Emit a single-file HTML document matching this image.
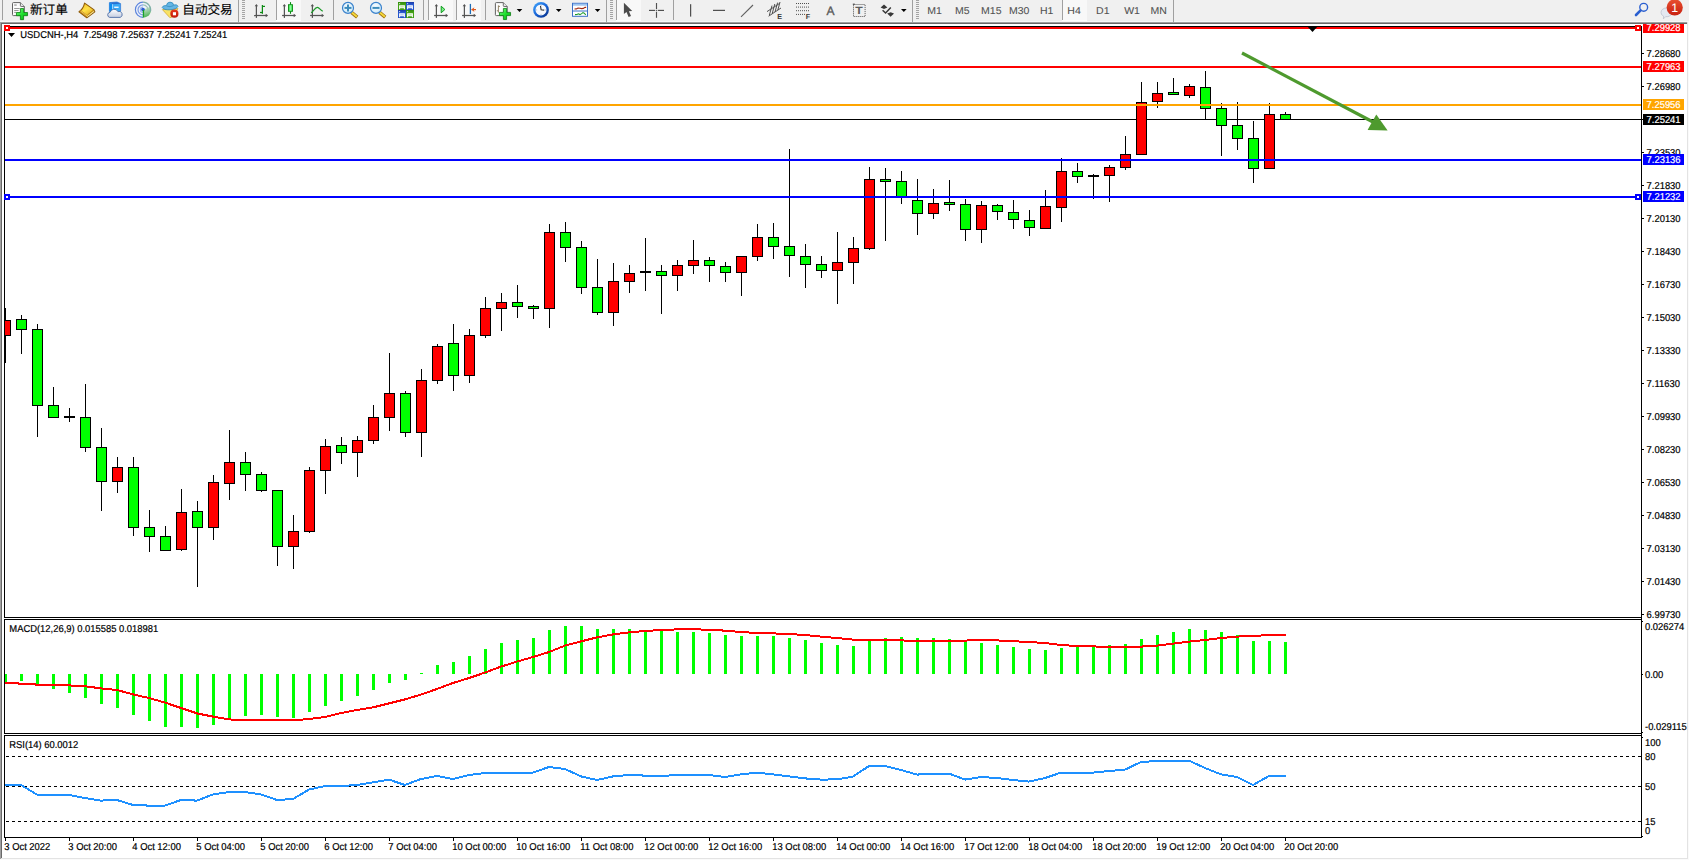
<!DOCTYPE html>
<html><head><meta charset="utf-8"><title>USDCNH-,H4</title>
<style>html,body{margin:0;padding:0;background:#f0f0f0;overflow:hidden}svg{display:block}svg{text-rendering:geometricPrecision}text{font-family:"Liberation Sans","Noto Sans CJK SC",sans-serif;font-size:10px;fill:#000;stroke:#000;stroke-width:.2px}.cj{font-size:12.6px;stroke-width:.15px}.tf{fill:#505050;stroke:#505050;stroke-width:.08px}.w{fill:#fff;stroke:#fff}</style></head><body>
<svg width="1689" height="860" viewBox="0 0 1689 860">
<rect width="1689" height="860" fill="#f0f0f0"/>
<g shape-rendering="crispEdges">
<rect x="0" y="21" width="1689" height="1" fill="#f8f8f8"/>
<rect x="0" y="22" width="1688" height="837" fill="#a0a0a0"/>
<rect x="1" y="23" width="1687" height="836" fill="#696969"/>
<rect x="2" y="24" width="1687" height="836" fill="#ffffff"/>
<rect x="1687" y="22" width="1" height="837" fill="#e3e3e3"/>
<rect x="1688" y="22" width="1" height="838" fill="#fafafa"/>
<rect x="1" y="858" width="1687" height="1" fill="#e3e3e3"/>
<rect x="0" y="859" width="1689" height="1" fill="#fafafa"/>
<rect x="4" y="26" width="1" height="592" fill="#000"/>
<rect x="4" y="619" width="1" height="115" fill="#000"/>
<rect x="4" y="735" width="1" height="103" fill="#000"/>
<rect x="4" y="26" width="1638" height="1" fill="#000"/>
<rect x="4" y="617" width="1638" height="1" fill="#000"/>
<rect x="4" y="619" width="1638" height="1" fill="#000"/>
<rect x="4" y="733" width="1638" height="1" fill="#000"/>
<rect x="4" y="735" width="1638" height="1" fill="#000"/>
<rect x="4" y="837" width="1638" height="1" fill="#000"/>
<rect x="1641" y="26" width="1" height="812" fill="#000"/>
<rect x="1642" y="53" width="2" height="1" fill="#000"/>
<rect x="1642" y="86" width="2" height="1" fill="#000"/>
<rect x="1642" y="119" width="2" height="1" fill="#000"/>
<rect x="1642" y="152" width="2" height="1" fill="#000"/>
<rect x="1642" y="185" width="2" height="1" fill="#000"/>
<rect x="1642" y="218" width="2" height="1" fill="#000"/>
<rect x="1642" y="251" width="2" height="1" fill="#000"/>
<rect x="1642" y="284" width="2" height="1" fill="#000"/>
<rect x="1642" y="317" width="2" height="1" fill="#000"/>
<rect x="1642" y="350" width="2" height="1" fill="#000"/>
<rect x="1642" y="383" width="2" height="1" fill="#000"/>
<rect x="1642" y="416" width="2" height="1" fill="#000"/>
<rect x="1642" y="449" width="2" height="1" fill="#000"/>
<rect x="1642" y="482" width="2" height="1" fill="#000"/>
<rect x="1642" y="515" width="2" height="1" fill="#000"/>
<rect x="1642" y="548" width="2" height="1" fill="#000"/>
<rect x="1642" y="581" width="2" height="1" fill="#000"/>
<rect x="1642" y="614" width="2" height="1" fill="#000"/>
<rect x="1642" y="621" width="1" height="1" fill="#000"/>
<rect x="1642" y="674" width="1" height="1" fill="#000"/>
<rect x="1642" y="732" width="1" height="1" fill="#000"/>
<rect x="1642" y="737" width="1" height="1" fill="#000"/>
<rect x="1642" y="836" width="1" height="1" fill="#000"/>
<rect x="5" y="838" width="1" height="3" fill="#000"/>
<rect x="69" y="838" width="1" height="3" fill="#000"/>
<rect x="133" y="838" width="1" height="3" fill="#000"/>
<rect x="197" y="838" width="1" height="3" fill="#000"/>
<rect x="261" y="838" width="1" height="3" fill="#000"/>
<rect x="325" y="838" width="1" height="3" fill="#000"/>
<rect x="389" y="838" width="1" height="3" fill="#000"/>
<rect x="453" y="838" width="1" height="3" fill="#000"/>
<rect x="517" y="838" width="1" height="3" fill="#000"/>
<rect x="581" y="838" width="1" height="3" fill="#000"/>
<rect x="645" y="838" width="1" height="3" fill="#000"/>
<rect x="709" y="838" width="1" height="3" fill="#000"/>
<rect x="773" y="838" width="1" height="3" fill="#000"/>
<rect x="837" y="838" width="1" height="3" fill="#000"/>
<rect x="901" y="838" width="1" height="3" fill="#000"/>
<rect x="965" y="838" width="1" height="3" fill="#000"/>
<rect x="1029" y="838" width="1" height="3" fill="#000"/>
<rect x="1093" y="838" width="1" height="3" fill="#000"/>
<rect x="1157" y="838" width="1" height="3" fill="#000"/>
<rect x="1221" y="838" width="1" height="3" fill="#000"/>
<rect x="1285" y="838" width="1" height="3" fill="#000"/>
</g>
<defs><clipPath id="cm"><rect x="5" y="27" width="1636" height="590"/></clipPath></defs>
<g shape-rendering="crispEdges" clip-path="url(#cm)">
<rect x="5" y="119" width="1636" height="1" fill="#000"/>
<rect x="5" y="308" width="1" height="55" fill="#000"/>
<rect x="0" y="320" width="11" height="16" fill="#000"/>
<rect x="1" y="321" width="9" height="14" fill="#ff0000"/>
<rect x="21" y="315" width="1" height="39" fill="#000"/>
<rect x="16" y="319" width="11" height="11" fill="#000"/>
<rect x="17" y="320" width="9" height="9" fill="#00ff00"/>
<rect x="37" y="324" width="1" height="113" fill="#000"/>
<rect x="32" y="329" width="11" height="77" fill="#000"/>
<rect x="33" y="330" width="9" height="75" fill="#00ff00"/>
<rect x="53" y="387" width="1" height="31" fill="#000"/>
<rect x="48" y="405" width="11" height="13" fill="#000"/>
<rect x="49" y="406" width="9" height="11" fill="#00ff00"/>
<rect x="69" y="408" width="1" height="14" fill="#000"/>
<rect x="64" y="416" width="11" height="2" fill="#000"/>
<rect x="85" y="384" width="1" height="68" fill="#000"/>
<rect x="80" y="417" width="11" height="31" fill="#000"/>
<rect x="81" y="418" width="9" height="29" fill="#00ff00"/>
<rect x="101" y="428" width="1" height="83" fill="#000"/>
<rect x="96" y="447" width="11" height="35" fill="#000"/>
<rect x="97" y="448" width="9" height="33" fill="#00ff00"/>
<rect x="117" y="457" width="1" height="36" fill="#000"/>
<rect x="112" y="467" width="11" height="15" fill="#000"/>
<rect x="113" y="468" width="9" height="13" fill="#ff0000"/>
<rect x="133" y="457" width="1" height="79" fill="#000"/>
<rect x="128" y="467" width="11" height="61" fill="#000"/>
<rect x="129" y="468" width="9" height="59" fill="#00ff00"/>
<rect x="149" y="510" width="1" height="42" fill="#000"/>
<rect x="144" y="527" width="11" height="10" fill="#000"/>
<rect x="145" y="528" width="9" height="8" fill="#00ff00"/>
<rect x="165" y="526" width="1" height="25" fill="#000"/>
<rect x="160" y="536" width="11" height="15" fill="#000"/>
<rect x="161" y="537" width="9" height="13" fill="#00ff00"/>
<rect x="181" y="489" width="1" height="62" fill="#000"/>
<rect x="176" y="512" width="11" height="38" fill="#000"/>
<rect x="177" y="513" width="9" height="36" fill="#ff0000"/>
<rect x="197" y="501" width="1" height="86" fill="#000"/>
<rect x="192" y="511" width="11" height="17" fill="#000"/>
<rect x="193" y="512" width="9" height="15" fill="#00ff00"/>
<rect x="213" y="475" width="1" height="65" fill="#000"/>
<rect x="208" y="482" width="11" height="46" fill="#000"/>
<rect x="209" y="483" width="9" height="44" fill="#ff0000"/>
<rect x="229" y="430" width="1" height="70" fill="#000"/>
<rect x="224" y="462" width="11" height="22" fill="#000"/>
<rect x="225" y="463" width="9" height="20" fill="#ff0000"/>
<rect x="245" y="452" width="1" height="39" fill="#000"/>
<rect x="240" y="462" width="11" height="13" fill="#000"/>
<rect x="241" y="463" width="9" height="11" fill="#00ff00"/>
<rect x="261" y="472" width="1" height="20" fill="#000"/>
<rect x="256" y="474" width="11" height="17" fill="#000"/>
<rect x="257" y="475" width="9" height="15" fill="#00ff00"/>
<rect x="277" y="490" width="1" height="76" fill="#000"/>
<rect x="272" y="490" width="11" height="57" fill="#000"/>
<rect x="273" y="491" width="9" height="55" fill="#00ff00"/>
<rect x="293" y="515" width="1" height="54" fill="#000"/>
<rect x="288" y="531" width="11" height="16" fill="#000"/>
<rect x="289" y="532" width="9" height="14" fill="#ff0000"/>
<rect x="309" y="467" width="1" height="66" fill="#000"/>
<rect x="304" y="470" width="11" height="62" fill="#000"/>
<rect x="305" y="471" width="9" height="60" fill="#ff0000"/>
<rect x="325" y="439" width="1" height="55" fill="#000"/>
<rect x="320" y="446" width="11" height="25" fill="#000"/>
<rect x="321" y="447" width="9" height="23" fill="#ff0000"/>
<rect x="341" y="437" width="1" height="27" fill="#000"/>
<rect x="336" y="445" width="11" height="8" fill="#000"/>
<rect x="337" y="446" width="9" height="6" fill="#00ff00"/>
<rect x="357" y="436" width="1" height="41" fill="#000"/>
<rect x="352" y="440" width="11" height="13" fill="#000"/>
<rect x="353" y="441" width="9" height="11" fill="#ff0000"/>
<rect x="373" y="405" width="1" height="39" fill="#000"/>
<rect x="368" y="417" width="11" height="24" fill="#000"/>
<rect x="369" y="418" width="9" height="22" fill="#ff0000"/>
<rect x="389" y="353" width="1" height="78" fill="#000"/>
<rect x="384" y="393" width="11" height="25" fill="#000"/>
<rect x="385" y="394" width="9" height="23" fill="#ff0000"/>
<rect x="405" y="391" width="1" height="46" fill="#000"/>
<rect x="400" y="393" width="11" height="40" fill="#000"/>
<rect x="401" y="394" width="9" height="38" fill="#00ff00"/>
<rect x="421" y="369" width="1" height="88" fill="#000"/>
<rect x="416" y="380" width="11" height="53" fill="#000"/>
<rect x="417" y="381" width="9" height="51" fill="#ff0000"/>
<rect x="437" y="344" width="1" height="40" fill="#000"/>
<rect x="432" y="346" width="11" height="35" fill="#000"/>
<rect x="433" y="347" width="9" height="33" fill="#ff0000"/>
<rect x="453" y="324" width="1" height="67" fill="#000"/>
<rect x="448" y="343" width="11" height="33" fill="#000"/>
<rect x="449" y="344" width="9" height="31" fill="#00ff00"/>
<rect x="469" y="329" width="1" height="54" fill="#000"/>
<rect x="464" y="335" width="11" height="41" fill="#000"/>
<rect x="465" y="336" width="9" height="39" fill="#ff0000"/>
<rect x="485" y="297" width="1" height="41" fill="#000"/>
<rect x="480" y="308" width="11" height="28" fill="#000"/>
<rect x="481" y="309" width="9" height="26" fill="#ff0000"/>
<rect x="501" y="293" width="1" height="38" fill="#000"/>
<rect x="496" y="302" width="11" height="7" fill="#000"/>
<rect x="497" y="303" width="9" height="5" fill="#ff0000"/>
<rect x="517" y="285" width="1" height="33" fill="#000"/>
<rect x="512" y="302" width="11" height="5" fill="#000"/>
<rect x="513" y="303" width="9" height="3" fill="#00ff00"/>
<rect x="533" y="305" width="1" height="14" fill="#000"/>
<rect x="528" y="306" width="11" height="3" fill="#000"/>
<rect x="529" y="307" width="9" height="1" fill="#00ff00"/>
<rect x="549" y="224" width="1" height="104" fill="#000"/>
<rect x="544" y="232" width="11" height="77" fill="#000"/>
<rect x="545" y="233" width="9" height="75" fill="#ff0000"/>
<rect x="565" y="222" width="1" height="40" fill="#000"/>
<rect x="560" y="232" width="11" height="16" fill="#000"/>
<rect x="561" y="233" width="9" height="14" fill="#00ff00"/>
<rect x="581" y="241" width="1" height="53" fill="#000"/>
<rect x="576" y="247" width="11" height="41" fill="#000"/>
<rect x="577" y="248" width="9" height="39" fill="#00ff00"/>
<rect x="597" y="259" width="1" height="56" fill="#000"/>
<rect x="592" y="287" width="11" height="26" fill="#000"/>
<rect x="593" y="288" width="9" height="24" fill="#00ff00"/>
<rect x="613" y="263" width="1" height="63" fill="#000"/>
<rect x="608" y="281" width="11" height="32" fill="#000"/>
<rect x="609" y="282" width="9" height="30" fill="#ff0000"/>
<rect x="629" y="265" width="1" height="28" fill="#000"/>
<rect x="624" y="273" width="11" height="9" fill="#000"/>
<rect x="625" y="274" width="9" height="7" fill="#ff0000"/>
<rect x="645" y="238" width="1" height="53" fill="#000"/>
<rect x="640" y="271" width="11" height="2" fill="#000"/>
<rect x="661" y="265" width="1" height="49" fill="#000"/>
<rect x="656" y="271" width="11" height="5" fill="#000"/>
<rect x="657" y="272" width="9" height="3" fill="#00ff00"/>
<rect x="677" y="260" width="1" height="31" fill="#000"/>
<rect x="672" y="265" width="11" height="11" fill="#000"/>
<rect x="673" y="266" width="9" height="9" fill="#ff0000"/>
<rect x="693" y="240" width="1" height="34" fill="#000"/>
<rect x="688" y="260" width="11" height="6" fill="#000"/>
<rect x="689" y="261" width="9" height="4" fill="#ff0000"/>
<rect x="709" y="257" width="1" height="25" fill="#000"/>
<rect x="704" y="260" width="11" height="6" fill="#000"/>
<rect x="705" y="261" width="9" height="4" fill="#00ff00"/>
<rect x="725" y="262" width="1" height="20" fill="#000"/>
<rect x="720" y="266" width="11" height="7" fill="#000"/>
<rect x="721" y="267" width="9" height="5" fill="#00ff00"/>
<rect x="741" y="256" width="1" height="40" fill="#000"/>
<rect x="736" y="256" width="11" height="17" fill="#000"/>
<rect x="737" y="257" width="9" height="15" fill="#ff0000"/>
<rect x="757" y="224" width="1" height="37" fill="#000"/>
<rect x="752" y="237" width="11" height="20" fill="#000"/>
<rect x="753" y="238" width="9" height="18" fill="#ff0000"/>
<rect x="773" y="223" width="1" height="36" fill="#000"/>
<rect x="768" y="237" width="11" height="10" fill="#000"/>
<rect x="769" y="238" width="9" height="8" fill="#00ff00"/>
<rect x="789" y="149" width="1" height="128" fill="#000"/>
<rect x="784" y="246" width="11" height="10" fill="#000"/>
<rect x="785" y="247" width="9" height="8" fill="#00ff00"/>
<rect x="805" y="244" width="1" height="44" fill="#000"/>
<rect x="800" y="256" width="11" height="9" fill="#000"/>
<rect x="801" y="257" width="9" height="7" fill="#00ff00"/>
<rect x="821" y="256" width="1" height="22" fill="#000"/>
<rect x="816" y="264" width="11" height="7" fill="#000"/>
<rect x="817" y="265" width="9" height="5" fill="#00ff00"/>
<rect x="837" y="232" width="1" height="72" fill="#000"/>
<rect x="832" y="262" width="11" height="9" fill="#000"/>
<rect x="833" y="263" width="9" height="7" fill="#ff0000"/>
<rect x="853" y="237" width="1" height="47" fill="#000"/>
<rect x="848" y="248" width="11" height="15" fill="#000"/>
<rect x="849" y="249" width="9" height="13" fill="#ff0000"/>
<rect x="869" y="167" width="1" height="83" fill="#000"/>
<rect x="864" y="179" width="11" height="70" fill="#000"/>
<rect x="865" y="180" width="9" height="68" fill="#ff0000"/>
<rect x="885" y="168" width="1" height="73" fill="#000"/>
<rect x="880" y="179" width="11" height="3" fill="#000"/>
<rect x="881" y="180" width="9" height="1" fill="#00ff00"/>
<rect x="901" y="171" width="1" height="33" fill="#000"/>
<rect x="896" y="181" width="11" height="17" fill="#000"/>
<rect x="897" y="182" width="9" height="15" fill="#00ff00"/>
<rect x="917" y="179" width="1" height="56" fill="#000"/>
<rect x="912" y="200" width="11" height="14" fill="#000"/>
<rect x="913" y="201" width="9" height="12" fill="#00ff00"/>
<rect x="933" y="189" width="1" height="30" fill="#000"/>
<rect x="928" y="203" width="11" height="11" fill="#000"/>
<rect x="929" y="204" width="9" height="9" fill="#ff0000"/>
<rect x="949" y="180" width="1" height="31" fill="#000"/>
<rect x="944" y="202" width="11" height="3" fill="#000"/>
<rect x="945" y="203" width="9" height="1" fill="#00ff00"/>
<rect x="965" y="199" width="1" height="42" fill="#000"/>
<rect x="960" y="204" width="11" height="26" fill="#000"/>
<rect x="961" y="205" width="9" height="24" fill="#00ff00"/>
<rect x="981" y="201" width="1" height="42" fill="#000"/>
<rect x="976" y="205" width="11" height="25" fill="#000"/>
<rect x="977" y="206" width="9" height="23" fill="#ff0000"/>
<rect x="997" y="204" width="1" height="16" fill="#000"/>
<rect x="992" y="205" width="11" height="7" fill="#000"/>
<rect x="993" y="206" width="9" height="5" fill="#00ff00"/>
<rect x="1013" y="200" width="1" height="29" fill="#000"/>
<rect x="1008" y="212" width="11" height="8" fill="#000"/>
<rect x="1009" y="213" width="9" height="6" fill="#00ff00"/>
<rect x="1029" y="210" width="1" height="26" fill="#000"/>
<rect x="1024" y="220" width="11" height="8" fill="#000"/>
<rect x="1025" y="221" width="9" height="6" fill="#00ff00"/>
<rect x="1045" y="190" width="1" height="39" fill="#000"/>
<rect x="1040" y="206" width="11" height="23" fill="#000"/>
<rect x="1041" y="207" width="9" height="21" fill="#ff0000"/>
<rect x="1061" y="158" width="1" height="64" fill="#000"/>
<rect x="1056" y="171" width="11" height="37" fill="#000"/>
<rect x="1057" y="172" width="9" height="35" fill="#ff0000"/>
<rect x="1077" y="163" width="1" height="20" fill="#000"/>
<rect x="1072" y="171" width="11" height="6" fill="#000"/>
<rect x="1073" y="172" width="9" height="4" fill="#00ff00"/>
<rect x="1093" y="174" width="1" height="25" fill="#000"/>
<rect x="1088" y="175" width="11" height="2" fill="#000"/>
<rect x="1109" y="165" width="1" height="37" fill="#000"/>
<rect x="1104" y="167" width="11" height="9" fill="#000"/>
<rect x="1105" y="168" width="9" height="7" fill="#ff0000"/>
<rect x="1125" y="136" width="1" height="34" fill="#000"/>
<rect x="1120" y="154" width="11" height="14" fill="#000"/>
<rect x="1121" y="155" width="9" height="12" fill="#ff0000"/>
<rect x="1141" y="82" width="1" height="73" fill="#000"/>
<rect x="1136" y="102" width="11" height="53" fill="#000"/>
<rect x="1137" y="103" width="9" height="51" fill="#ff0000"/>
<rect x="1157" y="82" width="1" height="26" fill="#000"/>
<rect x="1152" y="93" width="11" height="9" fill="#000"/>
<rect x="1153" y="94" width="9" height="7" fill="#ff0000"/>
<rect x="1173" y="78" width="1" height="17" fill="#000"/>
<rect x="1168" y="92" width="11" height="3" fill="#000"/>
<rect x="1169" y="93" width="9" height="1" fill="#00ff00"/>
<rect x="1189" y="84" width="1" height="14" fill="#000"/>
<rect x="1184" y="86" width="11" height="10" fill="#000"/>
<rect x="1185" y="87" width="9" height="8" fill="#ff0000"/>
<rect x="1205" y="71" width="1" height="49" fill="#000"/>
<rect x="1200" y="87" width="11" height="22" fill="#000"/>
<rect x="1201" y="88" width="9" height="20" fill="#00ff00"/>
<rect x="1221" y="103" width="1" height="53" fill="#000"/>
<rect x="1216" y="108" width="11" height="18" fill="#000"/>
<rect x="1217" y="109" width="9" height="16" fill="#00ff00"/>
<rect x="1237" y="102" width="1" height="48" fill="#000"/>
<rect x="1232" y="125" width="11" height="14" fill="#000"/>
<rect x="1233" y="126" width="9" height="12" fill="#00ff00"/>
<rect x="1253" y="121" width="1" height="62" fill="#000"/>
<rect x="1248" y="138" width="11" height="31" fill="#000"/>
<rect x="1249" y="139" width="9" height="29" fill="#00ff00"/>
<rect x="1269" y="103" width="1" height="66" fill="#000"/>
<rect x="1264" y="114" width="11" height="55" fill="#000"/>
<rect x="1265" y="115" width="9" height="53" fill="#ff0000"/>
<rect x="1285" y="112" width="1" height="8" fill="#000"/>
<rect x="1280" y="114" width="11" height="6" fill="#000"/>
<rect x="1281" y="115" width="9" height="4" fill="#00ff00"/>
<rect x="5" y="27" width="1636" height="2" fill="#ff0000"/>
<rect x="5" y="66" width="1636" height="2" fill="#ff0000"/>
<rect x="5" y="104" width="1636" height="2" fill="#ffa500"/>
<rect x="5" y="159" width="1636" height="2" fill="#0000ff"/>
<rect x="5" y="196" width="1636" height="2" fill="#0000ff"/>
</g>
<line x1="1242" y1="53" x2="1373" y2="122" stroke="#4e9a2e" stroke-width="3.2"/>
<polygon points="1376.3,114.5 1387.6,130.4 1367.6,130" fill="#4e9a2e"/>
<g shape-rendering="crispEdges">
<polygon points="1307,26 1318,26 1312.5,32" fill="#000" shape-rendering="auto"/>
<rect x="4" y="25" width="6" height="6" fill="#ff0000"/>
<rect x="6" y="27" width="2" height="2" fill="#fff"/>
<rect x="1635" y="25" width="6" height="6" fill="#ff0000"/>
<rect x="1637" y="27" width="2" height="2" fill="#fff"/>
<rect x="4" y="194" width="6" height="6" fill="#0000ff"/>
<rect x="6" y="196" width="2" height="2" fill="#fff"/>
<rect x="1635" y="194" width="6" height="6" fill="#0000ff"/>
<rect x="1637" y="196" width="2" height="2" fill="#fff"/>
<polygon points="8,33 15,33 11.5,37" fill="#000" shape-rendering="auto"/>
</g>
<text transform="translate(20.3 38) scale(0.94 1)">USDCNH-,H4&#160; 7.25498 7.25637 7.25241 7.25241</text>
<text transform="translate(1646.6 57) scale(0.94 1)">7.28680</text>
<text transform="translate(1646.6 90) scale(0.94 1)">7.26980</text>
<text transform="translate(1646.6 156) scale(0.94 1)">7.23530</text>
<text transform="translate(1646.6 189) scale(0.94 1)">7.21830</text>
<text transform="translate(1646.6 222) scale(0.94 1)">7.20130</text>
<text transform="translate(1646.6 255) scale(0.94 1)">7.18430</text>
<text transform="translate(1646.6 288) scale(0.94 1)">7.16730</text>
<text transform="translate(1646.6 321) scale(0.94 1)">7.15030</text>
<text transform="translate(1646.6 354) scale(0.94 1)">7.13330</text>
<text transform="translate(1646.6 387) scale(0.94 1)">7.11630</text>
<text transform="translate(1646.6 420) scale(0.94 1)">7.09930</text>
<text transform="translate(1646.6 453) scale(0.94 1)">7.08230</text>
<text transform="translate(1646.6 486) scale(0.94 1)">7.06530</text>
<text transform="translate(1646.6 519) scale(0.94 1)">7.04830</text>
<text transform="translate(1646.6 552) scale(0.94 1)">7.03130</text>
<text transform="translate(1646.6 585) scale(0.94 1)">7.01430</text>
<text transform="translate(1646.6 618) scale(0.94 1)">6.99730</text>
<g shape-rendering="crispEdges">
<rect x="1643" y="24" width="41" height="9" fill="#ff0000"/>
<rect x="1643" y="61" width="41" height="11" fill="#ff0000"/>
<rect x="1643" y="99" width="41" height="11" fill="#ffa500"/>
<rect x="1643" y="114" width="41" height="11" fill="#000000"/>
<rect x="1643" y="154" width="41" height="11" fill="#0000ff"/>
<rect x="1643" y="191" width="41" height="11" fill="#0000ff"/>
</g>
<text class="w" transform="translate(1646.6 31) scale(0.94 1)">7.29928</text>
<text class="w" transform="translate(1646.6 70) scale(0.94 1)">7.27963</text>
<text class="w" transform="translate(1646.6 108) scale(0.94 1)">7.25956</text>
<text class="w" transform="translate(1646.6 123) scale(0.94 1)">7.25241</text>
<text class="w" transform="translate(1646.6 163) scale(0.94 1)">7.23136</text>
<text class="w" transform="translate(1646.6 200) scale(0.94 1)">7.21232</text>
<g shape-rendering="crispEdges">
<rect x="5" y="674" width="2" height="8" fill="#00ff00"/>
<rect x="20" y="674" width="3" height="7" fill="#00ff00"/>
<rect x="36" y="674" width="3" height="11" fill="#00ff00"/>
<rect x="52" y="674" width="3" height="15" fill="#00ff00"/>
<rect x="68" y="674" width="3" height="19" fill="#00ff00"/>
<rect x="84" y="674" width="3" height="24" fill="#00ff00"/>
<rect x="100" y="674" width="3" height="30" fill="#00ff00"/>
<rect x="116" y="674" width="3" height="34" fill="#00ff00"/>
<rect x="132" y="674" width="3" height="41" fill="#00ff00"/>
<rect x="148" y="674" width="3" height="47" fill="#00ff00"/>
<rect x="164" y="674" width="3" height="53" fill="#00ff00"/>
<rect x="180" y="674" width="3" height="53" fill="#00ff00"/>
<rect x="196" y="674" width="3" height="54" fill="#00ff00"/>
<rect x="212" y="674" width="3" height="51" fill="#00ff00"/>
<rect x="228" y="674" width="3" height="46" fill="#00ff00"/>
<rect x="244" y="674" width="3" height="42" fill="#00ff00"/>
<rect x="260" y="674" width="3" height="41" fill="#00ff00"/>
<rect x="276" y="674" width="3" height="43" fill="#00ff00"/>
<rect x="292" y="674" width="3" height="44" fill="#00ff00"/>
<rect x="308" y="674" width="3" height="38" fill="#00ff00"/>
<rect x="324" y="674" width="3" height="32" fill="#00ff00"/>
<rect x="340" y="674" width="3" height="27" fill="#00ff00"/>
<rect x="356" y="674" width="3" height="22" fill="#00ff00"/>
<rect x="372" y="674" width="3" height="16" fill="#00ff00"/>
<rect x="388" y="674" width="3" height="9" fill="#00ff00"/>
<rect x="404" y="674" width="3" height="6" fill="#00ff00"/>
<rect x="420" y="673" width="3" height="1" fill="#00ff00"/>
<rect x="436" y="665" width="3" height="9" fill="#00ff00"/>
<rect x="452" y="662" width="3" height="12" fill="#00ff00"/>
<rect x="468" y="656" width="3" height="18" fill="#00ff00"/>
<rect x="484" y="649" width="3" height="25" fill="#00ff00"/>
<rect x="500" y="643" width="3" height="31" fill="#00ff00"/>
<rect x="516" y="640" width="3" height="34" fill="#00ff00"/>
<rect x="532" y="638" width="3" height="36" fill="#00ff00"/>
<rect x="548" y="630" width="3" height="44" fill="#00ff00"/>
<rect x="564" y="626" width="3" height="48" fill="#00ff00"/>
<rect x="580" y="626" width="3" height="48" fill="#00ff00"/>
<rect x="596" y="629" width="3" height="45" fill="#00ff00"/>
<rect x="612" y="629" width="3" height="45" fill="#00ff00"/>
<rect x="628" y="629" width="3" height="45" fill="#00ff00"/>
<rect x="644" y="630" width="3" height="44" fill="#00ff00"/>
<rect x="660" y="630" width="3" height="44" fill="#00ff00"/>
<rect x="676" y="632" width="3" height="42" fill="#00ff00"/>
<rect x="692" y="632" width="3" height="42" fill="#00ff00"/>
<rect x="708" y="633" width="3" height="41" fill="#00ff00"/>
<rect x="724" y="635" width="3" height="39" fill="#00ff00"/>
<rect x="740" y="636" width="3" height="38" fill="#00ff00"/>
<rect x="756" y="636" width="3" height="38" fill="#00ff00"/>
<rect x="772" y="636" width="3" height="38" fill="#00ff00"/>
<rect x="788" y="638" width="3" height="36" fill="#00ff00"/>
<rect x="804" y="640" width="3" height="34" fill="#00ff00"/>
<rect x="820" y="643" width="3" height="31" fill="#00ff00"/>
<rect x="836" y="645" width="3" height="29" fill="#00ff00"/>
<rect x="852" y="646" width="3" height="28" fill="#00ff00"/>
<rect x="868" y="640" width="3" height="34" fill="#00ff00"/>
<rect x="884" y="638" width="3" height="36" fill="#00ff00"/>
<rect x="900" y="637" width="3" height="37" fill="#00ff00"/>
<rect x="916" y="638" width="3" height="36" fill="#00ff00"/>
<rect x="932" y="638" width="3" height="36" fill="#00ff00"/>
<rect x="948" y="639" width="3" height="35" fill="#00ff00"/>
<rect x="964" y="641" width="3" height="33" fill="#00ff00"/>
<rect x="980" y="643" width="3" height="31" fill="#00ff00"/>
<rect x="996" y="645" width="3" height="29" fill="#00ff00"/>
<rect x="1012" y="647" width="3" height="27" fill="#00ff00"/>
<rect x="1028" y="649" width="3" height="25" fill="#00ff00"/>
<rect x="1044" y="650" width="3" height="24" fill="#00ff00"/>
<rect x="1060" y="648" width="3" height="26" fill="#00ff00"/>
<rect x="1076" y="646" width="3" height="28" fill="#00ff00"/>
<rect x="1092" y="647" width="3" height="27" fill="#00ff00"/>
<rect x="1108" y="645" width="3" height="29" fill="#00ff00"/>
<rect x="1124" y="644" width="3" height="30" fill="#00ff00"/>
<rect x="1140" y="639" width="3" height="35" fill="#00ff00"/>
<rect x="1156" y="635" width="3" height="39" fill="#00ff00"/>
<rect x="1172" y="632" width="3" height="42" fill="#00ff00"/>
<rect x="1188" y="629" width="3" height="45" fill="#00ff00"/>
<rect x="1204" y="630" width="3" height="44" fill="#00ff00"/>
<rect x="1220" y="632" width="3" height="42" fill="#00ff00"/>
<rect x="1236" y="635" width="3" height="39" fill="#00ff00"/>
<rect x="1252" y="641" width="3" height="33" fill="#00ff00"/>
<rect x="1268" y="641" width="3" height="33" fill="#00ff00"/>
<rect x="1284" y="642" width="3" height="32" fill="#00ff00"/>
</g>
<polyline points="5,683.0 21,683.6 37,684.6 53,685.0 69,685.4 85,686.2 101,688.4 117,690.0 133,694.4 149,698.0 165,702.6 181,708.0 197,713.4 213,716.6 229,719.4 245,720.4 261,720.4 277,720.4 293,720.4 309,719.0 325,717.0 341,713.0 357,710.0 373,707.4 389,703.4 405,699.4 421,694.6 437,689.0 453,683.0 469,678.0 485,672.6 501,666.6 517,661.6 533,657.0 549,652.0 565,645.6 581,641.4 597,637.4 613,634.4 629,632.4 645,631.0 661,630.0 677,629.4 693,629.0 709,630.0 725,630.6 741,632.0 757,633.0 773,633.4 789,634.0 805,635.0 821,636.6 837,638.0 853,639.6 869,640.0 885,640.0 901,640.4 917,641.0 933,641.0 949,641.0 965,640.6 981,640.0 997,640.4 1013,641.2 1029,642.0 1045,643.0 1061,645.0 1077,646.0 1093,646.4 1109,647.0 1125,647.0 1141,646.6 1157,645.6 1173,643.6 1189,641.6 1205,640.0 1221,638.0 1237,636.6 1253,636.0 1269,635.0 1285,635.0 1286,635.0" fill="none" stroke="#ff0000" stroke-width="2" stroke-linejoin="round" shape-rendering="crispEdges"/>
<text transform="translate(9.3 632) scale(0.94 1)">MACD(12,26,9) 0.015585 0.018981</text>
<text transform="translate(1645 630) scale(0.94 1)">0.026274</text><text transform="translate(1645 678) scale(0.94 1)">0.00</text><text transform="translate(1645 730) scale(0.94 1)">-0.029115</text>
<g shape-rendering="crispEdges">
<line x1="6" y1="756.5" x2="1641" y2="756.5" stroke="#000" stroke-width="1" stroke-dasharray="3 3"/>
<line x1="6" y1="786.5" x2="1641" y2="786.5" stroke="#000" stroke-width="1" stroke-dasharray="3 3"/>
<line x1="6" y1="821.5" x2="1641" y2="821.5" stroke="#000" stroke-width="1" stroke-dasharray="3 3"/>
</g>
<polyline points="5,785.0 21,785.0 37,794.6 53,795.0 69,795.0 85,798.0 101,800.6 117,800.0 133,805.0 149,805.6 165,805.6 181,800.0 197,800.6 213,794.4 229,792.0 245,792.0 261,794.4 277,800.0 293,799.0 309,789.6 325,786.0 341,786.0 357,785.0 373,782.4 389,779.6 405,785.0 421,779.0 437,776.0 453,779.0 469,775.0 485,773.0 501,773.0 517,773.0 533,772.6 549,767.0 565,769.0 581,776.4 597,780.0 613,776.4 629,775.0 645,775.6 661,776.0 677,775.0 693,774.6 709,775.0 725,777.0 741,774.4 757,772.6 773,774.4 789,776.4 805,778.4 821,779.6 837,779.4 853,776.6 869,766.0 885,766.0 901,770.0 917,774.6 933,773.6 949,773.6 965,779.6 981,777.0 997,778.0 1013,780.0 1029,781.6 1045,778.0 1061,772.6 1077,772.6 1093,772.6 1109,771.0 1125,769.6 1141,762.0 1157,761.0 1173,760.6 1189,760.6 1205,768.0 1221,774.4 1237,777.0 1253,785.0 1269,776.0 1285,776.0 1286,776.0" fill="none" stroke="#1e90ff" stroke-width="2" stroke-linejoin="round" shape-rendering="crispEdges"/>
<text transform="translate(9.3 748) scale(0.94 1)">RSI(14) 60.0012</text>
<text transform="translate(1645 746) scale(0.94 1)">100</text><text transform="translate(1645 760) scale(0.94 1)">80</text><text transform="translate(1645 790) scale(0.94 1)">50</text><text transform="translate(1645 825) scale(0.94 1)">15</text><text transform="translate(1645 834) scale(0.94 1)">0</text>
<text transform="translate(4.3 850) scale(0.94 1)">3 Oct 2022</text>
<text transform="translate(68.3 850) scale(0.94 1)">3 Oct 20:00</text>
<text transform="translate(132.3 850) scale(0.94 1)">4 Oct 12:00</text>
<text transform="translate(196.3 850) scale(0.94 1)">5 Oct 04:00</text>
<text transform="translate(260.3 850) scale(0.94 1)">5 Oct 20:00</text>
<text transform="translate(324.3 850) scale(0.94 1)">6 Oct 12:00</text>
<text transform="translate(388.3 850) scale(0.94 1)">7 Oct 04:00</text>
<text transform="translate(452.3 850) scale(0.94 1)">10 Oct 00:00</text>
<text transform="translate(516.3 850) scale(0.94 1)">10 Oct 16:00</text>
<text transform="translate(580.3 850) scale(0.94 1)">11 Oct 08:00</text>
<text transform="translate(644.3 850) scale(0.94 1)">12 Oct 00:00</text>
<text transform="translate(708.3 850) scale(0.94 1)">12 Oct 16:00</text>
<text transform="translate(772.3 850) scale(0.94 1)">13 Oct 08:00</text>
<text transform="translate(836.3 850) scale(0.94 1)">14 Oct 00:00</text>
<text transform="translate(900.3 850) scale(0.94 1)">14 Oct 16:00</text>
<text transform="translate(964.3 850) scale(0.94 1)">17 Oct 12:00</text>
<text transform="translate(1028.3 850) scale(0.94 1)">18 Oct 04:00</text>
<text transform="translate(1092.3 850) scale(0.94 1)">18 Oct 20:00</text>
<text transform="translate(1156.3 850) scale(0.94 1)">19 Oct 12:00</text>
<text transform="translate(1220.3 850) scale(0.94 1)">20 Oct 04:00</text>
<text transform="translate(1284.3 850) scale(0.94 1)">20 Oct 20:00</text>
<rect x="2" y="0" width="1" height="20" fill="#a0a0a0" shape-rendering="crispEdges"/>
<path d="M13.4,2.6 h7 l3.9,3.9 v8.2 q0,0.9 -0.9,0.9 h-10 q-0.9,0 -0.9,-0.9 v-11.2 q0,-0.9 0.9,-0.9 z" fill="#fcfcfc" stroke="#626262" stroke-width="1"/>
<path d="M20.4,2.6 v3.1 q0,0.8 0.8,0.8 h3.1" fill="#e4e4e4" stroke="#626262" stroke-width="0.9"/>
<rect x="14.2" y="4.4" width="2.5" height="1.3" fill="#9a9a9a"/>
<g stroke="#8c8c8c" stroke-width="0.9"><line x1="14.2" y1="8.5" x2="19.7" y2="8.5"/><line x1="14.2" y1="10.5" x2="18.6" y2="10.5"/><line x1="14.2" y1="12.4" x2="16.2" y2="12.4"/></g>
<defs><linearGradient id="pg22" x1="0" y1="0" x2="1" y2="1"><stop offset="0" stop-color="#7dff86"/><stop offset="0.5" stop-color="#1fe02e"/><stop offset="1" stop-color="#08a814"/></linearGradient></defs>
<path d="M20.4,8.55 h3.2 v3.9499999999999997 h3.9499999999999997 v3.2 h-3.9499999999999997 v3.9499999999999997 h-3.2 v-3.9499999999999997 h-3.9499999999999997 v-3.2 h3.9499999999999997 z" fill="url(#pg22)" stroke="#0b7d12" stroke-width="0.8"/>
<text class="cj" x="30" y="13.7">新订单</text>
<defs><linearGradient id="gd" x1="0.1" y1="0" x2="0.8" y2="1"><stop offset="0" stop-color="#f2b81c"/><stop offset="0.45" stop-color="#ffe148"/><stop offset="1" stop-color="#dc9a14"/></linearGradient></defs>
<path d="M84.6,3.1 L93.8,9.6 L94.8,11.8 L86.8,17.8 L79,11.8 Q83.2,9 84.6,3.1 Z" fill="url(#gd)" stroke="#8f5c0c" stroke-width="1.1" stroke-linejoin="round"/>
<path d="M79.6,11.6 L86.9,17.2 L87.4,15.2 L80.9,10.3 Z" fill="#c98a16"/>
<path d="M80.6,11 L87,15.9" fill="none" stroke="#f6dc78" stroke-width="0.7"/>
<path d="M94.2,11.3 L87.2,16.6" fill="none" stroke="#f0e2a4" stroke-width="1"/>
<path d="M93.8,9.9 L87.4,15" fill="none" stroke="#9a640e" stroke-width="0.7"/>
<polygon points="109.4,2.6 117,2 120.6,3.6 120.6,11.5 109.4,11.5" fill="#38a8f6" stroke="#2c74d4" stroke-width="0.7"/>
<polygon points="109.6,2.9 112.4,4.2 112.4,11.4 109.6,11.4" fill="#0c8cf0"/><polygon points="109.6,2.8 117,2.2 120.4,3.8 112.6,4.2" fill="#2a6ed0"/><line x1="112.6" y1="4.2" x2="112.6" y2="11" stroke="#e4f4ff" stroke-width="0.7"/>
<rect x="114.2" y="6.6" width="4.4" height="1.3" fill="#ffffff"/>
<defs><linearGradient id="cl" x1="0" y1="0" x2="0" y2="1"><stop offset="0" stop-color="#ffffff"/><stop offset="1" stop-color="#c4cde0"/></linearGradient></defs>
<path d="M109.6,17.4 a2.6,2.6 0 0 1 0.5,-5.1 a4.2,4.2 0 0 1 7.8,-0.7 a3,3 0 0 1 2.3,5.8 z" fill="url(#cl)" stroke="#4e6ea6" stroke-width="0.9"/>
<defs><linearGradient id="sg" x1="0" y1="0" x2="0.3" y2="1"><stop offset="0" stop-color="#e4f0e0"/><stop offset="1" stop-color="#2fa838"/></linearGradient></defs>
<circle cx="143" cy="9.8" r="7.8" fill="#eef2fb"/>
<path d="M143.4,9.8 L143.4,17.6 A7.8,7.8 0 0 0 150.4,6.6 Z" fill="url(#sg)" opacity="0.85"/>
<g fill="none" stroke-width="1.2"><path d="M143,2.2 a7.6,7.6 0 0 0 0,15.2" stroke="#5c84dc"/><path d="M143,4.8 a5,5 0 0 0 0,10" stroke="#7c9ce4"/><path d="M143,7.2 a2.6,2.6 0 0 0 0,5.2" stroke="#9cb4ec"/><path d="M143,2.2 a7.6,7.6 0 0 1 7.4,9.4" stroke="#7fb0a8"/><path d="M143,4.8 a5,5 0 0 1 4.8,6.4" stroke="#9cc4b4"/></g>
<circle cx="143" cy="9.6" r="1.8" fill="#2a5fd0"/><rect x="142.8" y="10" width="1.3" height="7.5" fill="#18a024"/>
<path d="M162.4,9.6 L178,8.6 L172.4,17 L169.8,17.6 Z" fill="#f9e264" stroke="#d0a21c" stroke-width="0.7" stroke-linejoin="round"/>
<path d="M162.2,7.6 Q162.6,5.2 166.4,5.6 Q167,2.2 170,2.1 Q173.2,2.2 173.6,5 Q177.6,4 178,6.4 Q176.4,9.4 170,9.8 Q163.6,10 162.2,7.6 Z" fill="#66b6e4" stroke="#2c8abc" stroke-width="0.8"/>
<path d="M166.6,6 Q170,7.6 173.6,5.6" fill="none" stroke="#2c8abc" stroke-width="0.7"/>
<defs><linearGradient id="rs" x1="0" y1="0" x2="0" y2="1"><stop offset="0" stop-color="#e8381c"/><stop offset="1" stop-color="#c01808"/></linearGradient></defs>
<circle cx="174.4" cy="13.7" r="4.1" fill="url(#rs)"/><rect x="172.9" y="12.2" width="3.1" height="3.1" fill="#fff"/>
<text class="cj" x="182.3" y="13.7">自动交易</text>
<rect x="238" y="0" width="1" height="22" fill="#a0a0a0" shape-rendering="crispEdges"/>
<rect x="242" y="0" width="3" height="1" fill="#a4a4a4" shape-rendering="crispEdges"/>
<rect x="242" y="2" width="3" height="1" fill="#a4a4a4" shape-rendering="crispEdges"/>
<rect x="242" y="4" width="3" height="1" fill="#a4a4a4" shape-rendering="crispEdges"/>
<rect x="242" y="6" width="3" height="1" fill="#a4a4a4" shape-rendering="crispEdges"/>
<rect x="242" y="8" width="3" height="1" fill="#a4a4a4" shape-rendering="crispEdges"/>
<rect x="242" y="10" width="3" height="1" fill="#a4a4a4" shape-rendering="crispEdges"/>
<rect x="242" y="12" width="3" height="1" fill="#a4a4a4" shape-rendering="crispEdges"/>
<rect x="242" y="14" width="3" height="1" fill="#a4a4a4" shape-rendering="crispEdges"/>
<rect x="242" y="16" width="3" height="1" fill="#a4a4a4" shape-rendering="crispEdges"/>
<rect x="242" y="18" width="3" height="1" fill="#a4a4a4" shape-rendering="crispEdges"/>
<g stroke="#545454" stroke-width="1.25" fill="none">
<line x1="256.4" y1="5" x2="256.4" y2="17.9"/><line x1="254.09999999999997" y1="15.5" x2="266.9" y2="15.5"/>
</g>
<polygon points="254.7,6.3 256.4,3.9 258.09999999999997,6.3" fill="#545454"/>
<polygon points="265.7,13.8 268.09999999999997,15.5 265.7,17.2" fill="#545454"/>
<g stroke="#0c8a14" stroke-width="1.25" fill="none"><line x1="262.4" y1="5" x2="262.4" y2="13.8"/><line x1="262.4" y1="6.4" x2="265" y2="6.4"/><line x1="260" y1="12.5" x2="262.4" y2="12.5"/></g>
<rect x="276" y="0" width="1" height="20" fill="#a0a0a0" shape-rendering="crispEdges"/>
<rect x="277" y="0" width="24" height="20" fill="#f8f8f8" shape-rendering="crispEdges"/>
<rect x="276" y="20" width="25" height="1" fill="#ffffff" shape-rendering="crispEdges"/>
<g stroke="#545454" stroke-width="1.25" fill="none">
<line x1="284.4" y1="5" x2="284.4" y2="17.9"/><line x1="282.09999999999997" y1="15.5" x2="294.9" y2="15.5"/>
</g>
<polygon points="282.7,6.3 284.4,3.9 286.09999999999997,6.3" fill="#545454"/>
<polygon points="293.7,13.8 296.09999999999997,15.5 293.7,17.2" fill="#545454"/>
<defs><linearGradient id="cg" x1="0" y1="0" x2="1" y2="0"><stop offset="0" stop-color="#20d838"/><stop offset="0.5" stop-color="#8cff9c"/><stop offset="1" stop-color="#20d838"/></linearGradient></defs>
<line x1="290.5" y1="2.1" x2="290.5" y2="13.8" stroke="#0c8a14" stroke-width="1.1"/><rect x="288.5" y="4.7" width="4" height="6.6" fill="url(#cg)" stroke="#0c8a14" stroke-width="0.9"/>
<g stroke="#545454" stroke-width="1.25" fill="none">
<line x1="312.4" y1="5" x2="312.4" y2="17.9"/><line x1="310.09999999999997" y1="15.5" x2="322.9" y2="15.5"/>
</g>
<polygon points="310.7,6.3 312.4,3.9 314.09999999999997,6.3" fill="#545454"/>
<polygon points="321.7,13.8 324.09999999999997,15.5 321.7,17.2" fill="#545454"/>
<path d="M311.1,12.8 C313.2,11.6 315,7.2 317.4,7.3 C319.4,7.4 320.6,10.6 322.8,11.1" fill="none" stroke="#1c9a2a" stroke-width="1.2"/>
<rect x="333" y="0" width="1" height="20" fill="#a0a0a0" shape-rendering="crispEdges"/>
<defs><radialGradient id="lg" cx="0.45" cy="0.4" r="0.65"><stop offset="0" stop-color="#ffffff"/><stop offset="1" stop-color="#c4e6fa"/></radialGradient></defs>
<line x1="351.5" y1="12.4" x2="357.2" y2="17.1" stroke="#9c6c0c" stroke-width="3.5"/>
<line x1="351.9" y1="12.6" x2="356.9" y2="16.8" stroke="#f4d83c" stroke-width="2"/>
<circle cx="348" cy="7.9" r="5.5" fill="url(#lg)" stroke="#3b82cc" stroke-width="1.2"/>
<line x1="344.5" y1="7.9" x2="351.5" y2="7.9" stroke="#3d8cbc" stroke-width="2"/>
<line x1="348" y1="4.4" x2="348" y2="11.4" stroke="#3d8cbc" stroke-width="2"/>
<line x1="379.5" y1="12.4" x2="385.2" y2="17.1" stroke="#9c6c0c" stroke-width="3.5"/>
<line x1="379.9" y1="12.6" x2="384.9" y2="16.8" stroke="#f4d83c" stroke-width="2"/>
<circle cx="376" cy="7.9" r="5.5" fill="url(#lg)" stroke="#3b82cc" stroke-width="1.2"/>
<line x1="372.5" y1="7.9" x2="379.5" y2="7.9" stroke="#3d8cbc" stroke-width="2"/>
<defs><linearGradient id="gg" x1="0" y1="0" x2="0" y2="1"><stop offset="0" stop-color="#2f8a0a"/><stop offset="0.35" stop-color="#46a418"/><stop offset="1" stop-color="#3a9a12"/></linearGradient><linearGradient id="gb" x1="0" y1="0" x2="0" y2="1"><stop offset="0" stop-color="#1838a4"/><stop offset="0.35" stop-color="#2a5cd4"/><stop offset="1" stop-color="#2050c4"/></linearGradient></defs>
<rect x="398" y="2" width="8" height="8" fill="url(#gg)"/>
<path d="M399.1,5.3 h5.8 v3.9 h-1 v-0.9 h-3.8 v0.9 h-1 z" fill="#fff"/>
<rect x="400.2" y="6.5" width="3.6" height="0.8" fill="#9ad870"/>
<rect x="399.1" y="3.1" width="1" height="1" fill="#fff" opacity="0.85"/>
<rect x="406" y="2" width="8" height="8" fill="url(#gb)"/>
<path d="M407.1,5.3 h5.8 v3.9 h-1 v-0.9 h-3.8 v0.9 h-1 z" fill="#fff"/>
<rect x="408.2" y="6.5" width="3.6" height="0.8" fill="#8aa8f0"/>
<rect x="407.1" y="3.1" width="1" height="1" fill="#fff" opacity="0.85"/>
<rect x="398" y="10" width="8" height="8" fill="url(#gb)"/>
<path d="M399.1,13.3 h5.8 v3.9 h-1 v-0.9 h-3.8 v0.9 h-1 z" fill="#fff"/>
<rect x="400.2" y="14.5" width="3.6" height="0.8" fill="#8aa8f0"/>
<rect x="399.1" y="11.1" width="1" height="1" fill="#fff" opacity="0.85"/>
<rect x="406" y="10" width="8" height="8" fill="url(#gg)"/>
<path d="M407.1,13.3 h5.8 v3.9 h-1 v-0.9 h-3.8 v0.9 h-1 z" fill="#fff"/>
<rect x="408.2" y="14.5" width="3.6" height="0.8" fill="#9ad870"/>
<rect x="407.1" y="11.1" width="1" height="1" fill="#fff" opacity="0.85"/>
<rect x="423" y="0" width="1" height="20" fill="#a0a0a0" shape-rendering="crispEdges"/>
<rect x="428" y="0" width="1" height="20" fill="#a0a0a0" shape-rendering="crispEdges"/>
<rect x="429" y="0" width="24" height="20" fill="#f8f8f8" shape-rendering="crispEdges"/>
<rect x="428" y="20" width="25" height="1" fill="#ffffff" shape-rendering="crispEdges"/>
<g stroke="#545454" stroke-width="1.25" fill="none">
<line x1="436.4" y1="5" x2="436.4" y2="17.9"/><line x1="434.09999999999997" y1="15.5" x2="446.9" y2="15.5"/>
</g>
<polygon points="434.7,6.3 436.4,3.9 438.09999999999997,6.3" fill="#545454"/>
<polygon points="445.7,13.8 448.09999999999997,15.5 445.7,17.2" fill="#545454"/>
<polygon points="441.2,6.2 444.9,9.5 441.2,12.8" fill="#7ef08a" stroke="#0c9a1c" stroke-width="1"/>
<rect x="456" y="0" width="1" height="20" fill="#a0a0a0" shape-rendering="crispEdges"/>
<rect x="457" y="0" width="24" height="20" fill="#f8f8f8" shape-rendering="crispEdges"/>
<rect x="456" y="20" width="25" height="1" fill="#ffffff" shape-rendering="crispEdges"/>
<g stroke="#545454" stroke-width="1.25" fill="none">
<line x1="464.4" y1="5" x2="464.4" y2="17.9"/><line x1="462.09999999999997" y1="15.5" x2="474.9" y2="15.5"/>
</g>
<polygon points="462.7,6.3 464.4,3.9 466.09999999999997,6.3" fill="#545454"/>
<polygon points="473.7,13.8 476.09999999999997,15.5 473.7,17.2" fill="#545454"/>
<line x1="470.4" y1="3.9" x2="470.4" y2="14" stroke="#1f6cb4" stroke-width="1.3"/>
<path d="M476,9.6 h-4.4" fill="none" stroke="#e0581c" stroke-width="1.2"/><polygon points="471.3,9.6 474.4,7.2 473.6,9.6 474.4,12" fill="#e0581c"/>
<rect x="485" y="0" width="1" height="20" fill="#a0a0a0" shape-rendering="crispEdges"/>
<path d="M496.29999999999995,2.6 h7 l3.9,3.9 v8.2 q0,0.9 -0.9,0.9 h-10 q-0.9,0 -0.9,-0.9 v-11.2 q0,-0.9 0.9,-0.9 z" fill="#fcfcfc" stroke="#626262" stroke-width="1"/>
<path d="M503.29999999999995,2.6 v3.1 q0,0.8 0.8,0.8 h3.1" fill="#e4e4e4" stroke="#626262" stroke-width="0.9"/>
<path d="M498.4,5.4 v7.2 M498.4,6.4 h1.6 M496.8,10.8 h1.6" stroke="#8a7a5a" stroke-width="0.9" fill="none"/>
<defs><linearGradient id="pg505" x1="0" y1="0" x2="1" y2="1"><stop offset="0" stop-color="#7dff86"/><stop offset="0.5" stop-color="#1fe02e"/><stop offset="1" stop-color="#08a814"/></linearGradient></defs>
<path d="M503.4,8.45 h3.2 v3.9499999999999997 h3.9499999999999997 v3.2 h-3.9499999999999997 v3.9499999999999997 h-3.2 v-3.9499999999999997 h-3.9499999999999997 v-3.2 h3.9499999999999997 z" fill="url(#pg505)" stroke="#0b7d12" stroke-width="0.8"/>
<polygon points="516.7,9 522.3000000000001,9 519.5,12.1" fill="#000"/>
<defs><linearGradient id="ck" x1="0.15" y1="0.1" x2="0.85" y2="0.9"><stop offset="0" stop-color="#3b9af6"/><stop offset="0.5" stop-color="#1a66d8"/><stop offset="1" stop-color="#0a3692"/></linearGradient></defs>
<circle cx="541" cy="9.95" r="7.9" fill="url(#ck)"/><circle cx="541" cy="9.95" r="5.5" fill="#f6f8fc"/>
<g stroke="#9aa4b4" stroke-width="0.7"><line x1="541" y1="5" x2="541" y2="6"/><line x1="541" y1="13.9" x2="541" y2="14.9"/><line x1="536.1" y1="9.95" x2="537.1" y2="9.95"/><line x1="544.9" y1="9.95" x2="545.9" y2="9.95"/></g>
<path d="M540.5,6 L541.1,9.7 L544.2,10.1" fill="none" stroke="#303030" stroke-width="1.1"/>
<polygon points="555.9,9 561.5,9 558.6999999999999,12.1" fill="#000"/>
<rect x="572.5" y="3.3" width="15" height="13" fill="#ffffff" stroke="#3a70c8" stroke-width="1"/>
<rect x="573" y="3.8" width="14" height="1.9" fill="#9cc4f0"/><line x1="572.5" y1="11" x2="587.5" y2="11" stroke="#3a70c8" stroke-width="1"/>
<polyline points="574.5,9 576.4,8.9 578,8 580,8.2 581.6,8.6 583.4,8.4 585,7.4 586.2,7.4" fill="none" stroke="#a02810" stroke-width="1.1"/>
<polyline points="575,14.6 577,14.5 578.4,13.8 580,14.6 581.6,13.6 583,12.6 584.2,13.2 585.8,14.8" fill="none" stroke="#1c9a2a" stroke-width="1.1"/>
<polygon points="594.8,9 600.4,9 597.5999999999999,12.1" fill="#000"/>
<rect x="606" y="0" width="1" height="22" fill="#a0a0a0" shape-rendering="crispEdges"/>
<rect x="610" y="0" width="3" height="1" fill="#a4a4a4" shape-rendering="crispEdges"/>
<rect x="610" y="2" width="3" height="1" fill="#a4a4a4" shape-rendering="crispEdges"/>
<rect x="610" y="4" width="3" height="1" fill="#a4a4a4" shape-rendering="crispEdges"/>
<rect x="610" y="6" width="3" height="1" fill="#a4a4a4" shape-rendering="crispEdges"/>
<rect x="610" y="8" width="3" height="1" fill="#a4a4a4" shape-rendering="crispEdges"/>
<rect x="610" y="10" width="3" height="1" fill="#a4a4a4" shape-rendering="crispEdges"/>
<rect x="610" y="12" width="3" height="1" fill="#a4a4a4" shape-rendering="crispEdges"/>
<rect x="610" y="14" width="3" height="1" fill="#a4a4a4" shape-rendering="crispEdges"/>
<rect x="610" y="16" width="3" height="1" fill="#a4a4a4" shape-rendering="crispEdges"/>
<rect x="610" y="18" width="3" height="1" fill="#a4a4a4" shape-rendering="crispEdges"/>
<rect x="616" y="0" width="1" height="20" fill="#a0a0a0" shape-rendering="crispEdges"/>
<rect x="617" y="0" width="24" height="20" fill="#f8f8f8" shape-rendering="crispEdges"/>
<rect x="616" y="20" width="25" height="1" fill="#ffffff" shape-rendering="crispEdges"/>
<polygon points="623.9,2.8 623.9,13.9 626.5,12 628.6,17 631,16 628.9,11.3 632.2,10.9" fill="#4c4c4c"/>
<g stroke="#505050" stroke-width="1.15"><line x1="649" y1="10.4" x2="655.2" y2="10.4"/><line x1="657.8" y1="10.4" x2="664" y2="10.4"/><line x1="656.5" y1="3" x2="656.5" y2="9.1"/><line x1="656.5" y1="11.7" x2="656.5" y2="17.8"/></g>
<rect x="656" y="9.9" width="1" height="1" fill="#505050"/>
<rect x="673" y="0" width="1" height="20" fill="#a0a0a0" shape-rendering="crispEdges"/>
<g stroke="#505050" stroke-width="1.25"><line x1="690.6" y1="4.2" x2="690.6" y2="16.6"/><line x1="713" y1="10.4" x2="725" y2="10.4"/></g><line x1="741" y1="16.8" x2="753" y2="5" stroke="#606060" stroke-width="1.1"/>
<g stroke="#505050" stroke-width="1"><line x1="767" y1="11.6" x2="779.6" y2="3.4"/><line x1="768.6" y1="16.2" x2="781" y2="8"/><line x1="769.4" y1="15" x2="772" y2="5.6"/><line x1="772.2" y1="13.6" x2="774.8" y2="4"/><line x1="775" y1="12" x2="777.6" y2="2.6"/><line x1="777.8" y1="10.2" x2="780" y2="2"/></g>
<text x="777.2" y="18.9" style="font-size:7.2px;font-weight:bold;fill:#383838;stroke:none">E</text>
<line x1="796" y1="3.5" x2="809" y2="3.5" stroke="#505050" stroke-width="1" stroke-dasharray="1 1"/>
<line x1="796" y1="7.1" x2="809" y2="7.1" stroke="#505050" stroke-width="1" stroke-dasharray="1 1"/>
<line x1="796" y1="10.7" x2="809" y2="10.7" stroke="#505050" stroke-width="1" stroke-dasharray="1 1"/>
<line x1="796" y1="14.4" x2="805" y2="14.4" stroke="#505050" stroke-width="1" stroke-dasharray="1 1"/>
<text x="805.8" y="18.9" style="font-size:7.2px;font-weight:bold;fill:#383838;stroke:none">F</text>
<text x="826.6" y="14.8" style="font-size:12px;fill:#585858;stroke:#585858;stroke-width:0.35">A</text>
<rect x="853.5" y="4.5" width="11.6" height="12" fill="none" stroke="#505050" stroke-width="1" stroke-dasharray="1 1"/>
<rect x="852.8" y="3.6" width="2" height="1.2" fill="#505050"/>
<text transform="translate(855.2 14.4) scale(1.18 1)" style="font-size:10.4px;font-weight:bold;fill:#5c5c5c;stroke:none">T</text>
<polygon points="884,4.4 887.4,7.6 884,9 880.6,7.6" fill="#383838"/><polygon points="890.6,16.8 887.2,13.6 890.6,12.2 894,13.6" fill="#383838"/>
<polyline points="882.6,10.2 885.6,13 890.8,7.6" fill="none" stroke="#383838" stroke-width="1.5"/>
<polygon points="901,9 906.6,9 903.8,12.1" fill="#000"/>
<rect x="912" y="0" width="1" height="22" fill="#a0a0a0" shape-rendering="crispEdges"/>
<rect x="916" y="0" width="3" height="1" fill="#a4a4a4" shape-rendering="crispEdges"/>
<rect x="916" y="2" width="3" height="1" fill="#a4a4a4" shape-rendering="crispEdges"/>
<rect x="916" y="4" width="3" height="1" fill="#a4a4a4" shape-rendering="crispEdges"/>
<rect x="916" y="6" width="3" height="1" fill="#a4a4a4" shape-rendering="crispEdges"/>
<rect x="916" y="8" width="3" height="1" fill="#a4a4a4" shape-rendering="crispEdges"/>
<rect x="916" y="10" width="3" height="1" fill="#a4a4a4" shape-rendering="crispEdges"/>
<rect x="916" y="12" width="3" height="1" fill="#a4a4a4" shape-rendering="crispEdges"/>
<rect x="916" y="14" width="3" height="1" fill="#a4a4a4" shape-rendering="crispEdges"/>
<rect x="916" y="16" width="3" height="1" fill="#a4a4a4" shape-rendering="crispEdges"/>
<rect x="916" y="18" width="3" height="1" fill="#a4a4a4" shape-rendering="crispEdges"/>
<rect x="1062" y="0" width="1" height="20" fill="#a0a0a0" shape-rendering="crispEdges"/>
<rect x="1063" y="0" width="24" height="20" fill="#f8f8f8" shape-rendering="crispEdges"/>
<rect x="1062" y="20" width="25" height="1" fill="#ffffff" shape-rendering="crispEdges"/>
<text class="tf" transform="translate(927.2 14) scale(1.05 1)">M1</text>
<text class="tf" transform="translate(955 14) scale(1.05 1)">M5</text>
<text class="tf" transform="translate(981.1 14) scale(1.05 1)">M15</text>
<text class="tf" transform="translate(1009 14) scale(1.05 1)">M30</text>
<text class="tf" transform="translate(1040 14) scale(1.05 1)">H1</text>
<text class="tf" transform="translate(1067.3 14) scale(1.05 1)">H4</text>
<text class="tf" transform="translate(1096.1 14) scale(1.05 1)">D1</text>
<text class="tf" transform="translate(1124.2 14) scale(1.05 1)">W1</text>
<text class="tf" transform="translate(1150.4 14) scale(1.05 1)">MN</text>
<rect x="1173" y="0" width="1" height="22" fill="#a0a0a0" shape-rendering="crispEdges"/>
<line x1="1640.6" y1="10.4" x2="1636" y2="15" stroke="#2a5fd0" stroke-width="2.6" stroke-linecap="round"/>
<circle cx="1643.7" cy="7.3" r="3.9" fill="none" stroke="#2a5fd0" stroke-width="1.4"/>
<path d="M1661,12.5 a5.5,4.4 0 1 1 4.6,4.2 l-2.2,2.2 l0.2,-2.8 a5,4 0 0 1 -2.6,-3.6 z" fill="#e4e8f0" stroke="#b8bcc8" stroke-width="0.7"/>
<defs><linearGradient id="rb" x1="0" y1="0" x2="0" y2="1"><stop offset="0" stop-color="#e85030"/><stop offset="1" stop-color="#c82010"/></linearGradient></defs>
<circle cx="1674.7" cy="7.4" r="8.1" fill="url(#rb)"/>
<text x="1671.2" y="12" style="font-size:12.4px;fill:#fff;stroke:none">1</text>
</svg></body></html>
